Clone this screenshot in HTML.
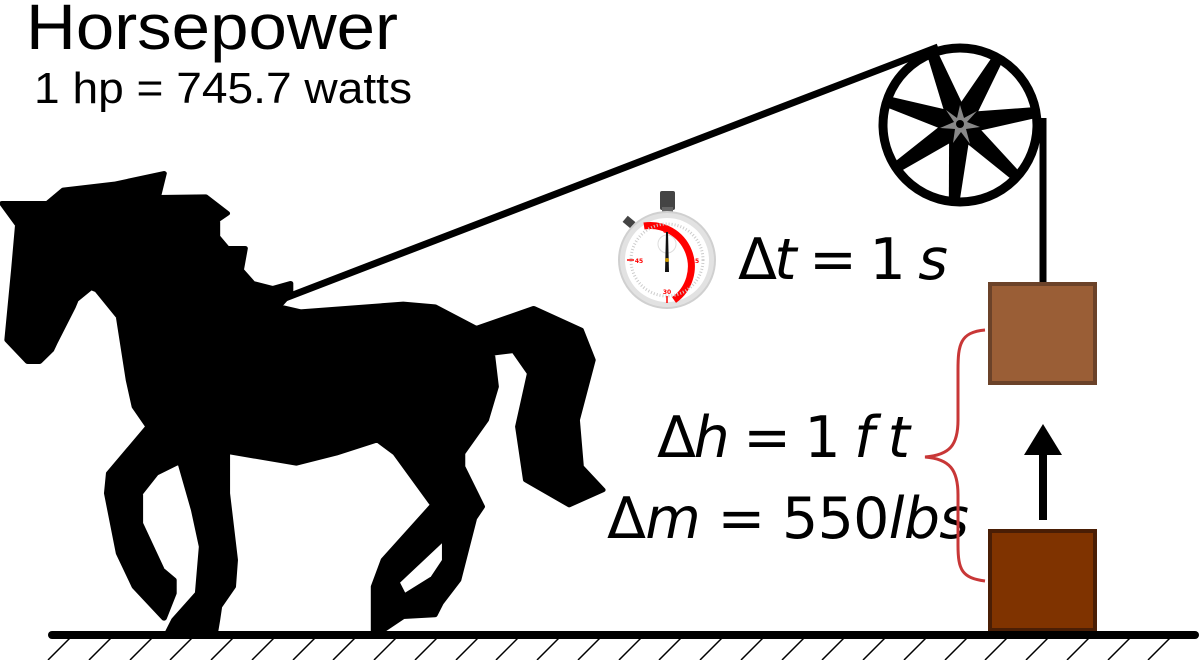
<!DOCTYPE html>
<html><head><meta charset="utf-8"><style>html,body{margin:0;padding:0;background:#fff}svg{display:block}</style></head>
<body>
<svg width="1201" height="660" viewBox="0 0 1201 660" xmlns="http://www.w3.org/2000/svg">
<rect width="1201" height="660" fill="#fff"/>
<text x="26" y="49" font-family="Liberation Sans, sans-serif" font-size="64" textLength="372" lengthAdjust="spacingAndGlyphs">Horsepower</text>
<text x="34" y="103" font-family="Liberation Sans, sans-serif" font-size="44" textLength="378" lengthAdjust="spacingAndGlyphs">1 hp = 745.7 watts</text>

<!-- rope -->
<line x1="280" y1="300" x2="938" y2="47" stroke="#000" stroke-width="7"/>
<line x1="1043" y1="118" x2="1043" y2="285" stroke="#000" stroke-width="7"/>

<!-- pulley -->
<circle cx="960" cy="125" r="77" fill="none" stroke="#000" stroke-width="9"/>
<g transform="translate(960,124)" fill="#000">
<g transform="rotate(-21.8)"><polygon points="-5,-76 6,-76 11,2 -11,-6"/></g>
<g transform="rotate(29.6)"><polygon points="-5,-76 6,-76 11,2 -11,-6"/></g>
<g transform="rotate(81.0)"><polygon points="-5,-76 6,-76 11,2 -11,-6"/></g>
<g transform="rotate(132.5)"><polygon points="-5,-76 6,-76 11,2 -11,-6"/></g>
<g transform="rotate(183.9)"><polygon points="-5,-76 6,-76 11,2 -11,-6"/></g>
<g transform="rotate(235.3)"><polygon points="-5,-76 6,-76 11,2 -11,-6"/></g>
<g transform="rotate(286.7)"><polygon points="-5,-76 6,-76 11,2 -11,-6"/></g>
</g>
<polygon points="960,105 964,118 977,111 967,122 980,127 966,129 970,144 961,132 953,143 955,129 940,128 954,122 946,110 957,118" fill="#888"/>
<circle cx="960" cy="124" r="4" fill="#000"/>

<!-- stopwatch -->
<rect x="660" y="191" width="15" height="19" rx="2" fill="#444"/>
<rect x="662" y="207" width="11" height="6" fill="#666"/>
<rect x="624" y="218" width="10" height="8" fill="#444" transform="rotate(40 629 222)"/>
<circle cx="667" cy="260" r="48" fill="#e2e2e2" stroke="#d0d0d0" stroke-width="2"/>
<circle cx="667" cy="260" r="42" fill="#fff"/>
<path d="M 644 226 A 41 41 0 0 1 674 300" fill="none" stroke="#f00" stroke-width="7"/>
<circle cx="667" cy="260" r="36" fill="none" stroke="#ccc" stroke-width="3" stroke-dasharray="1 2"/>
<text x="667" y="233" font-family="DejaVu Sans, sans-serif" font-size="6" font-weight="bold" fill="#f00" text-anchor="middle">60</text>
<text x="695" y="263" font-family="DejaVu Sans, sans-serif" font-size="6" font-weight="bold" fill="#f00" text-anchor="middle">15</text>
<text x="667" y="294" font-family="DejaVu Sans, sans-serif" font-size="6" font-weight="bold" fill="#f00" text-anchor="middle">30</text>
<text x="639" y="263" font-family="DejaVu Sans, sans-serif" font-size="6" font-weight="bold" fill="#f00" text-anchor="middle">45</text>
<line x1="627" y1="260" x2="634" y2="260" stroke="#f00" stroke-width="1.5"/>
<line x1="667" y1="296" x2="667" y2="303" stroke="#f00" stroke-width="1.5"/>
<circle cx="667" cy="244" r="9" fill="none" stroke="#ddd" stroke-width="1"/>
<polygon points="666,232 668,232 669,272 665,272" fill="#111"/>
<circle cx="667" cy="260" r="2" fill="#c90"/>

<!-- math -->
<g font-family="DejaVu Sans, sans-serif" font-size="57">
<text x="738" y="279" textLength="210" lengthAdjust="spacing">Δ<tspan font-style="italic">t</tspan> = 1 <tspan font-style="italic">s</tspan></text>
<text x="657" y="457" textLength="253" lengthAdjust="spacing">Δ<tspan font-style="italic">h</tspan> = 1 <tspan font-style="italic">f t</tspan></text>
<text x="607" y="538" textLength="362" lengthAdjust="spacing">Δ<tspan font-style="italic">m</tspan> = 550<tspan font-style="italic">lbs</tspan></text>
</g>

<!-- brace -->
<path d="M 985 330 C 960 332 958 345 958 370 L 958 420 C 958 445 950 455 925 457 C 950 459 958 470 958 495 L 958 545 C 958 570 962 578 985 581" fill="none" stroke="#c83737" stroke-width="3"/>

<!-- boxes -->
<rect x="990" y="284" width="105" height="99" fill="#9a5e36" stroke="#6b4229" stroke-width="4"/>
<rect x="990" y="531" width="105" height="99" fill="#7f3300" stroke="#4a1e05" stroke-width="4"/>
<line x1="1043" y1="520" x2="1043" y2="450" stroke="#000" stroke-width="8"/>
<polygon points="1024,455 1062,455 1043,424" fill="#000"/>

<!-- horse -->
<g transform="translate(0,160) scale(0.3953,0.3333)">
<polygon fill="#000" stroke="#000" stroke-width="14" stroke-linejoin="round" points="5,130 120,130 160,90 290,72 415,40 400,112 520,110 575,160 550,180 550,230 575,265 620,265 610,330 640,370 690,385 735,370 735,400 705,440 760,455 1020,432 1100,440 1205,505 1350,445 1470,510 1500,600 1460,780 1470,920 1525,990 1440,1035 1330,960 1310,800 1340,640 1300,572 1245,580 1255,680 1230,780 1170,880 1170,920 1220,1040 1200,1075 1160,1260 1115,1330 1100,1365 1020,1370 970,1410 945,1415 945,1280 970,1200 1095,1035 1000,880 955,840 850,880 750,910 575,875 575,1000 595,1200 590,1280 555,1340 550,1380 545,1415 425,1415 440,1380 500,1300 510,1160 490,1050 455,905 395,940 355,1000 355,1090 410,1230 440,1260 440,1300 415,1375 340,1280 300,1180 270,1000 275,940 375,800 340,740 325,660 300,470 245,390 230,383 192,420 185,440 140,545 130,570 100,605 70,605 18,540 35,330 45,195"/>
<polygon fill="#fff" points="1012,1268 1118,1150 1118,1200 1090,1250 1025,1298"/>
</g>

<!-- ground -->
<line x1="52" y1="635" x2="1195" y2="635" stroke="#000" stroke-width="8" stroke-linecap="round"/>
<g stroke="#000" stroke-width="1.5">
<path d="M48 660 L70 638 M89 660 L111 638 M130 660 L152 638 M170 660 L192 638 M211 660 L233 638 M252 660 L274 638 M293 660 L315 638 M333 660 L355 638 M374 660 L396 638 M415 660 L437 638 M456 660 L478 638 M496 660 L518 638 M537 660 L559 638 M578 660 L600 638 M619 660 L641 638 M659 660 L681 638 M700 660 L722 638 M741 660 L763 638 M782 660 L804 638 M822 660 L844 638 M863 660 L885 638 M904 660 L926 638 M945 660 L967 638 M985 660 L1007 638 M1026 660 L1048 638 M1067 660 L1089 638 M1108 660 L1130 638 M1148 660 L1170 638"/>
</g>
</svg>
</body></html>
